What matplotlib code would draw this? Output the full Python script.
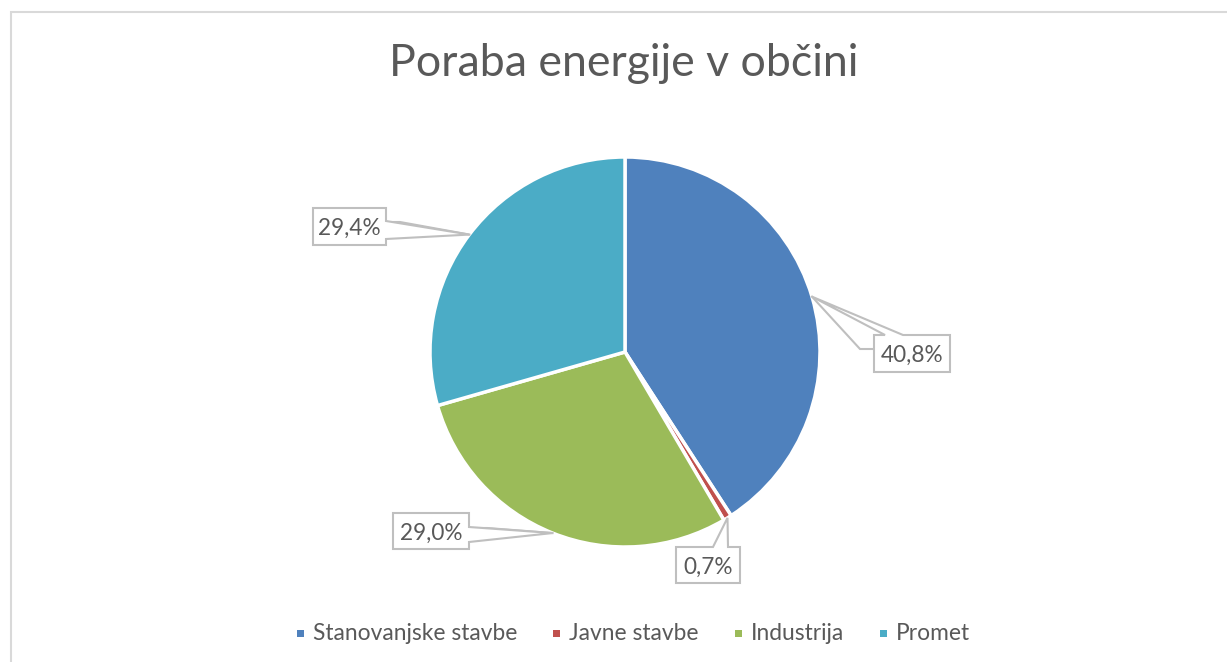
import matplotlib
matplotlib.use('Agg')
import matplotlib.pyplot as plt
from matplotlib.patches import Rectangle, Polygon
import numpy as np

# ---------------- data ----------------
categories = ['Stanovanjske stavbe', 'Javne stavbe', 'Industrija', 'Promet']
shares = [40.8, 0.7, 29.0, 29.4]
label_texts = ['40,8%', '0,7%', '29,0%', '29,4%']
colors = ['#4F81BD', '#C0504D', '#9BBB59', '#4BACC6']
title = 'Poraba energije v občini'

# ---------------- layout ----------------
W, H = 1227, 662
FONT = ['Lato', 'DejaVu Sans']
TXT = '#595959'
BOXC = '#BFBFBF'

fig = plt.figure(figsize=(W / 100, H / 100), dpi=100)
ax = fig.add_axes([0, 0, 1, 1])
renderer = fig.canvas.get_renderer()


def py(y):
    return H - y


def fit_size(text, target_w, base=20.0):
    t = fig.text(0, 0, text, fontsize=base, family=FONT)
    w = t.get_window_extent(renderer).width
    t.remove()
    return base * target_w / w


def text_w(text, size):
    t = fig.text(0, 0, text, fontsize=size, family=FONT)
    w = t.get_window_extent(renderer).width
    t.remove()
    return w


# chart border (extends past right and bottom edge)
ax.add_patch(Rectangle((11, -20), W + 40, py(12) + 20, fill=False,
                       edgecolor='#D9D9D9', linewidth=1.5, zorder=0))

# pie
cx, cy, R = 625, py(352), 195
wedges, _ = ax.pie(shares, colors=colors, startangle=90, counterclock=False,
                   center=(cx, cy), radius=R,
                   wedgeprops=dict(edgecolor='white', linewidth=2.5))
ax.set_xlim(0, W)
ax.set_ylim(0, H)
ax.set_aspect('equal')
ax.axis('off')

# title
ts = fit_size(title, 462) * 1.02
ax.text(624, py(76), title, fontsize=ts, family=FONT, color=TXT,
        ha='center', va='baseline')

# data label callouts: box (x0, y0, x1, y1) in pixel coords (y down),
# side of callout wedge, wedge gap range, leader elbow
callouts = [
    dict(box=(874, 335, 950, 372), side='top', gap=(885, 903), elbow=(860, 349), end=(874, 349)),
    dict(box=(676, 547, 740, 583), side='top', gap=(713, 728), elbow=None, end=None),
    dict(box=(393, 513, 469, 549), side='right', gap=(527, 542), elbow=(487, 528), end=(469, 528)),
    dict(box=(313, 208, 386, 245), side='right', gap=(221, 239), elbow=(400, 222), end=(386, 222)),
]

lsize = fit_size('40,8%', 58) * 1.08
for w, txt, co in zip(wedges, label_texts, callouts):
    mid = np.deg2rad((w.theta1 + w.theta2) / 2)
    tx, ty = cx + R * np.cos(mid), cy + R * np.sin(mid)
    x0, y0, x1, y1 = co['box']
    g0, g1 = co['gap']
    if co['side'] == 'top':
        pts = [(x0, py(y0)), (g0, py(y0)), (tx, ty), (g1, py(y0)),
               (x1, py(y0)), (x1, py(y1)), (x0, py(y1))]
    else:
        pts = [(x0, py(y0)), (x1, py(y0)), (x1, py(g0)), (tx, ty),
               (x1, py(g1)), (x1, py(y1)), (x0, py(y1))]
    if co['elbow'] is not None:
        ex, ey = co['elbow']
        ux, uy = co['end']
        ax.plot([tx, ex, ux], [ty, py(ey), py(uy)], color=BOXC, lw=1.5,
                zorder=4, solid_joinstyle='miter')
    ax.add_patch(Polygon(pts, closed=True, facecolor='white', edgecolor=BOXC,
                         linewidth=1.5, zorder=5, joinstyle='miter'))
    ax.text((x0 + x1) / 2, py((y0 + y1) / 2 + 8.5), txt, fontsize=lsize,
            family=FONT, color=TXT, ha='center', va='baseline', zorder=6)

# legend (manual row)
gs = fit_size(categories[0], 198) * 1.03
x = 297
sq = 7
gap = 36
ly = 633
for name, col in zip(categories, colors):
    ax.add_patch(Rectangle((x, py(ly) - sq / 2), sq, sq, facecolor=col,
                           edgecolor='none', zorder=3))
    tx0 = x + 16
    ax.text(tx0, py(ly + 7), name, fontsize=gs, family=FONT, color=TXT,
            ha='left', va='baseline')
    x = tx0 + text_w(name, gs) + gap

fig.savefig('out.png', dpi=100)
